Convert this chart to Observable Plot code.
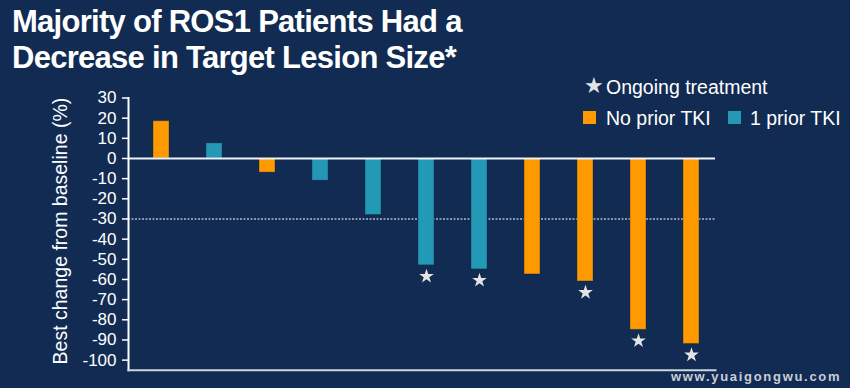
<!DOCTYPE html>
<html><head><meta charset="utf-8">
<script src="https://cdn.jsdelivr.net/npm/d3@7"></script>
<script src="https://cdn.jsdelivr.net/npm/@observablehq/plot@0.6"></script>
<style>
html,body{margin:0;padding:0;background:#112b52;}
#wrap{position:relative;width:850px;height:388px;overflow:hidden;font-family:"Liberation Sans",Arial,sans-serif;color:#fff;}
#title{position:absolute;left:12px;top:4px;font-weight:bold;font-size:31px;line-height:36px;letter-spacing:-0.72px;white-space:nowrap;}
#chart{position:absolute;left:0;top:75px;}
.lg{position:absolute;font-size:19.5px;line-height:20px;white-space:nowrap;}
.sw{position:absolute;width:13px;height:13px;}
#wm{position:absolute;left:671px;top:369px;font-weight:bold;font-size:13px;letter-spacing:1.7px;color:#c9ced8;white-space:nowrap;}
</style></head>
<body>
<div id="wrap">
  <div id="title">Majority of ROS1 Patients Had a<br>Decrease in Target Lesion Size*</div>
  <div id="chart"></div>
  <div class="lg" style="left:584px;top:73px;font-family:'DejaVu Sans';font-size:22px;line-height:26px;color:#e4e4e4;">★</div>
  <div class="lg" style="left:606px;top:77px;">Ongoing treatment</div>
  <div class="sw" id="sw1" style="left:583px;top:111px;"></div>
  <div class="lg" style="left:606px;top:108px;">No prior TKI</div>
  <div class="sw" id="sw2" style="left:728px;top:111px;"></div>
  <div class="lg" style="left:750px;top:108px;">1 prior TKI</div>
  <div id="wm">www.yuaigongwu.com</div>
</div>
<script>
const patients = ["P1","P2","P3","P4","P5","P6","P7","P8","P9","P10","P11"];
const changes = [18.5, 7.5, -7, -11, -28, -53, -55, -57.5, -61, -85, -92];
const groups = ["No prior TKI","1 prior TKI","No prior TKI","1 prior TKI","1 prior TKI","1 prior TKI","1 prior TKI","No prior TKI","No prior TKI","No prior TKI","No prior TKI"];
const ongoing = [false,false,false,false,false,true,true,false,true,true,true];
const groupNames = ["No prior TKI","1 prior TKI"];
const groupColors = ["#ff9900","#2399b6"];
const yTicks = [30,20,10,0,-10,-20,-30,-40,-50,-60,-70,-80,-90,-100];
const yLabel = "Best change from baseline (%)";
const threshold = -30;

document.getElementById("sw1").style.background = groupColors[0];
document.getElementById("sw2").style.background = groupColors[1];

const data = patients.map((p, i) => ({patient: p, value: changes[i], group: groups[i], ongoing: ongoing[i]}));

const chart = Plot.plot({
  width: 850,
  height: 313,
  marginLeft: 128,
  marginRight: 135,
  marginTop: 22.5,
  marginBottom: 18.3,
  style: {background: "transparent", color: "white", fontFamily: "'Liberation Sans', Arial, sans-serif", overflow: "visible"},
  x: {type: "band", domain: patients, paddingInner: 0.7, paddingOuter: 0.377, align: 0.6, axis: null},
  y: {domain: [-105, 30], axis: null},
  color: {domain: groupNames, range: groupColors},
  marks: [
    Plot.ruleY([threshold], {stroke: "white", strokeWidth: 1.2, strokeDasharray: "2,1.5"}),
    Plot.barY(data, {x: "patient", y: "value", fill: "group", stroke: "#0c2142", strokeOpacity: 0.35, strokeWidth: 1}),
    Plot.ruleY([0], {stroke: "#eef3f8", strokeWidth: 2}),
    Plot.dot(data.filter(d => d.ongoing), {x: "patient", y: "value", symbol: "star", r: 4.6, fill: "#e4e4e4", dy: 11}),
    Plot.frame({anchor: "left", stroke: "white", strokeWidth: 2}),
    Plot.frame({anchor: "bottom", stroke: "#cdd5df", strokeWidth: 2}),
    Plot.axisY({ticks: yTicks, tickSize: 6, tickPadding: 6, fontSize: 17, tickFormat: d => String(d), strokeWidth: 1.5, label: null}),
    Plot.text([yLabel], {frameAnchor: "left", textAnchor: "middle", rotate: -90, dx: -68, dy: -3, fontSize: 19.5, fill: "white"})
  ]
});
document.getElementById("chart").appendChild(chart);
</script>
</body></html>
